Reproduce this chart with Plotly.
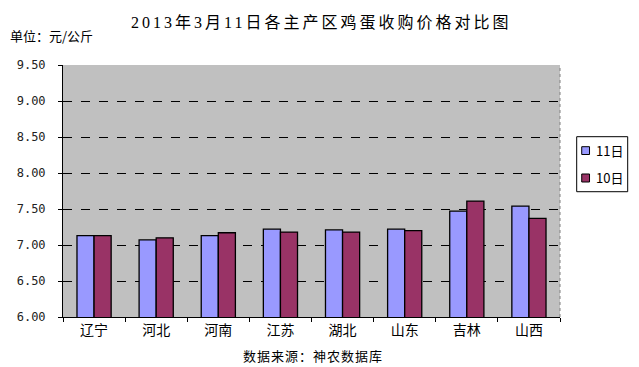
import plotly.graph_objects as go

categories = ["辽宁", "河北", "河南", "江苏", "湖北", "山东", "吉林", "山西"]
series_names = ["11日", "10日"]
values_11 = [7.13, 7.07, 7.13, 7.22, 7.21, 7.22, 7.47, 7.54]
values_10 = [7.13, 7.10, 7.17, 7.18, 7.18, 7.20, 7.61, 7.37]
y_ticks = [6.0, 6.5, 7.0, 7.5, 8.0, 8.5, 9.0, 9.5]
y_tick_labels = ["6.00", "6.50", "7.00", "7.50", "8.00", "8.50", "9.00", "9.50"]

colors = ["#9999FF", "#993366"]
cjk = "Noto Sans CJK SC, sans-serif"

fig = go.Figure()
for name, vals, col in zip(series_names, [values_11, values_10], colors):
    fig.add_trace(go.Bar(
        x=categories, y=vals, name=name,
        marker=dict(color=col, line=dict(color="black", width=1.3)),
        showlegend=False,
    ))

# page body has an 8px default margin, so the figure is sized to fit
fig.update_layout(
    width=631, height=359,
    margin=dict(l=55, r=79, t=57, b=50, autoexpand=False),
    paper_bgcolor="white",
    plot_bgcolor="#C0C0C0",
    barmode="group",
    bargap=0.45,
    bargroupgap=0.0,
    showlegend=False,
    font=dict(family=cjk, size=12, color="black"),
)

fig.update_xaxes(
    showline=True, linecolor="black", linewidth=1,
    ticks="outside", ticklen=4, tickcolor="black",
    tickson="boundaries", automargin=False,
    tickfont=dict(family=cjk, size=14, color="black"),
    mirror=False, showgrid=False,
)
fig.update_yaxes(
    range=[6.0, 9.5], automargin=False,
    tickvals=y_ticks, ticktext=y_tick_labels,
    showline=True, linecolor="black", linewidth=1,
    ticks="outside", ticklen=4, tickcolor="black",
    ticklabelstandoff=10,
    showgrid=True, gridcolor="black", gridwidth=1, griddash="dash",
    tickfont=dict(family="DejaVu Sans Mono, monospace", size=12, color="#222222"),
    zeroline=False,
)

# right dotted border of the plot area
fig.add_shape(type="line", xref="paper", yref="paper", x0=1, x1=1, y0=0, y1=1,
              line=dict(color="#808080", width=1, dash="dot"))

# custom legend
fig.add_shape(type="rect", xref="paper", yref="paper",
              x0=1.0336, x1=1.1362, y0=0.4972, y1=0.7155,
              line=dict(color="black", width=1), fillcolor="white")
legend_pos = [(0.6448, 0.6758, 0.6607), (0.5357, 0.5675, 0.5516)]
for name, col, (y0, y1, yt) in zip(series_names, colors, legend_pos):
    fig.add_shape(type="rect", xref="paper", yref="paper",
                  x0=1.0437, x1=1.0594, y0=y0, y1=y1,
                  line=dict(color="black", width=1), fillcolor=col)
    fig.add_annotation(text=name, xref="paper", yref="paper", x=1.0684, y=yt,
                       xanchor="left", yanchor="middle", showarrow=False,
                       font=dict(family=cjk, size=13, color="black"))

fig.add_annotation(text='<span style="letter-spacing:3px">2013年3月11日各主产区鸡蛋收购价格对比图</span>',
                   xref="paper", yref="paper", x=0.52, y=1.0, yshift=43,
                   xanchor="center", yanchor="middle", showarrow=False,
                   font=dict(family="Liberation Serif, Noto Sans CJK SC, serif", size=16, color="black"))
fig.add_annotation(text="单位：元/公斤",
                   xref="paper", yref="paper", x=-0.1107, y=1.0, yshift=30,
                   xanchor="left", yanchor="middle", showarrow=False,
                   font=dict(family=cjk, size=13, color="black"))
fig.add_annotation(text='<span style="letter-spacing:1px">数据来源：神农数据库</span>',
                   xref="paper", yref="paper", x=0.503, y=0.0, yshift=-38,
                   xanchor="center", yanchor="middle", showarrow=False,
                   font=dict(family=cjk, size=13, color="black"))

fig.write_html("out.html")
